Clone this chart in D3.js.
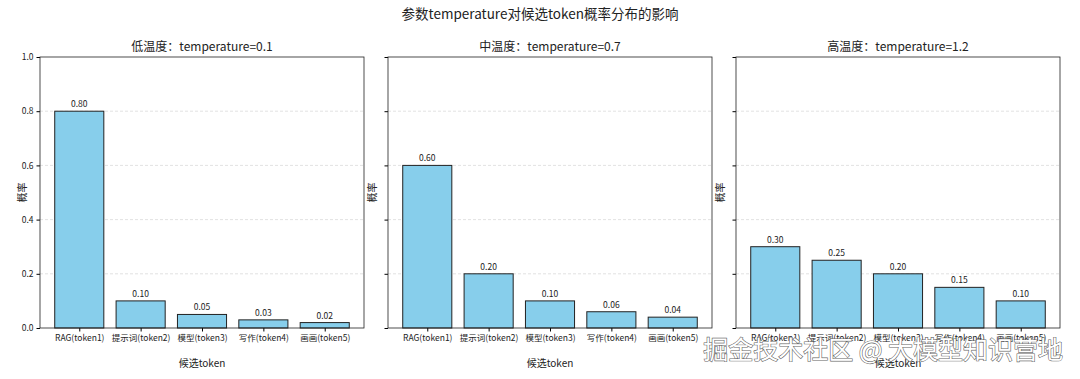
<!DOCTYPE html>
<html>
<head>
<meta charset="utf-8">
<script src="https://cdn.jsdelivr.net/npm/d3@7"></script>
<style>
  body { margin: 0; background: #fff; }
  text { font-family: "Noto Sans CJK SC", "Noto Sans", sans-serif; fill: #222; }
</style>
</head>
<body>
<div id="chart"></div>
<script>
// data
const tokens = ["RAG(token1)", "提示词(token2)", "模型(token3)", "写作(token4)", "画画(token5)"];
const lowTemp = [0.80, 0.10, 0.05, 0.03, 0.02];
const midTemp = [0.60, 0.20, 0.10, 0.06, 0.04];
const highTemp = [0.30, 0.25, 0.20, 0.15, 0.10];
const panelTitles = ["低温度：temperature=0.1", "中温度：temperature=0.7", "高温度：temperature=1.2"];
const yTicks = [0.0, 0.2, 0.4, 0.6, 0.8, 1.0];

const width = 1080, height = 379;
const svg = d3.select("#chart").append("svg")
  .attr("width", width)
  .attr("height", height);

// figure title
svg.append("text")
  .attr("x", width / 2).attr("y", 19)
  .attr("text-anchor", "middle")
  .style("font-size", "13.5px")
  .text("参数temperature对候选token概率分布的影响");

const panels = [
  { left: 40, values: lowTemp },
  { left: 388, values: midTemp },
  { left: 736, values: highTemp }
];
const pw = 324, plotTop = 57, plotBottom = 328;

const y = d3.scaleLinear().domain([0, 1]).range([plotBottom, plotTop]);

panels.forEach((p, i) => {
  const g = svg.append("g");
  const x = d3.scaleLinear().domain([-0.64, 4.64]).range([p.left, p.left + pw]);

  // grid
  g.selectAll(".grid")
    .data(yTicks.filter(t => t > 0 && t < 1))
    .enter().append("line")
    .attr("x1", p.left).attr("x2", p.left + pw)
    .attr("y1", d => y(d)).attr("y2", d => y(d))
    .attr("stroke", "#d6d6d6")
    .attr("stroke-width", 0.7)
    .attr("stroke-dasharray", "3,2");

  // bars
  g.selectAll(".bar")
    .data(p.values)
    .enter().append("rect")
    .attr("x", (d, j) => x(j - 0.4))
    .attr("width", x(0.8) - x(0))
    .attr("y", d => y(d))
    .attr("height", d => y(0) - y(d))
    .attr("fill", "#87ceeb")
    .attr("stroke", "#222")
    .attr("stroke-width", 1);

  // value labels
  g.selectAll(".val")
    .data(p.values)
    .enter().append("text")
    .attr("x", (d, j) => x(j))
    .attr("y", d => y(d) - 4)
    .attr("text-anchor", "middle")
    .style("font-size", "8.5px")
    .text(d => d.toFixed(2));

  // axes
  const xAxis = d3.axisBottom(x)
    .tickValues(d3.range(tokens.length))
    .tickFormat(j => tokens[j])
    .tickSize(3.5).tickPadding(3);
  const xg = g.append("g")
    .attr("transform", `translate(0,${plotBottom})`)
    .call(xAxis);
  xg.select(".domain").remove();
  xg.selectAll("text").style("font-size", "8.5px").attr("fill", "#222");

  const yAxis = d3.axisLeft(y)
    .tickValues(yTicks)
    .tickFormat(i === 0 ? d3.format(".1f") : "")
    .tickSize(3.5).tickPadding(3);
  const yg = g.append("g")
    .attr("transform", `translate(${p.left},0)`)
    .call(yAxis);
  yg.select(".domain").remove();
  yg.selectAll("text").style("font-size", "8.5px").attr("fill", "#222");

  // frame
  g.append("rect")
    .attr("x", p.left).attr("y", plotTop)
    .attr("width", pw).attr("height", plotBottom - plotTop)
    .attr("fill", "none")
    .attr("stroke", "#222")
    .attr("stroke-width", 0.8);

  // panel title
  g.append("text")
    .attr("x", p.left + pw / 2).attr("y", 51)
    .attr("text-anchor", "middle")
    .style("font-size", "12px")
    .text(panelTitles[i]);

  // axis labels
  g.append("text")
    .attr("x", p.left + pw / 2).attr("y", 367)
    .attr("text-anchor", "middle")
    .style("font-size", "10px")
    .text("候选token");

  g.append("text")
    .attr("transform", `translate(${p.left - (i === 0 ? 14 : 12)},${(plotTop + plotBottom) / 2}) rotate(-90)`)
    .attr("text-anchor", "middle")
    .style("font-size", "10px")
    .text("概率");
});

// watermark
svg.append("text")
  .attr("x", 1063).attr("y", 359)
  .attr("text-anchor", "end")
  .style("font-size", "25px")
  .style("fill", "#fff")
  .style("stroke", "#666")
  .style("stroke-width", 1.2)
  .style("paint-order", "stroke")
  .text("掘金技术社区 @ 大模型知识营地");
</script>
</body>
</html>
